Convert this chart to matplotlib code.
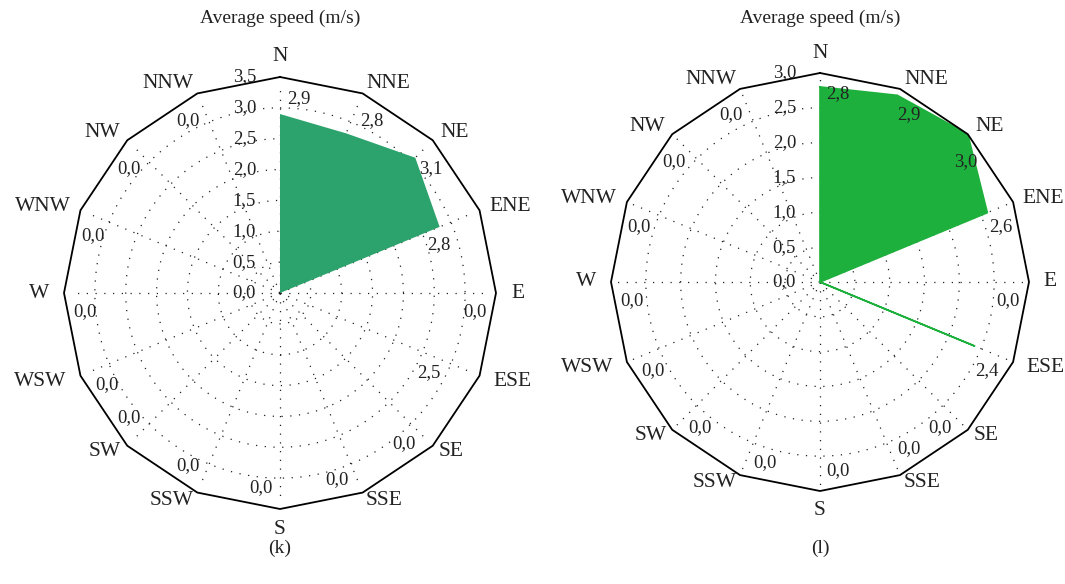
import numpy as np
import matplotlib
matplotlib.use("Agg")
import matplotlib.pyplot as plt

plt.rcParams['font.family'] = ['Liberation Serif', 'DejaVu Serif']

directions = ["N", "NNE", "NE", "ENE", "E", "ESE", "SE", "SSE",
              "S", "SSW", "SW", "WSW", "W", "WNW", "NW", "NNW"]
speed_k = [2.9, 2.8, 3.1, 2.8, 0.0, 2.5, 0.0, 0.0,
           0.0, 0.0, 0.0, 0.0, 0.0, 0.0, 0.0, 0.0]
speed_l = [2.8, 2.9, 3.0, 2.6, 0.0, 2.4, 0.0, 0.0,
           0.0, 0.0, 0.0, 0.0, 0.0, 0.0, 0.0, 0.0]
ticks_k = [0.0, 0.5, 1.0, 1.5, 2.0, 2.5, 3.0, 3.5]
ticks_l = [0.0, 0.5, 1.0, 1.5, 2.0, 2.5, 3.0]
title = "Average speed (m/s)"
panel_k = "(k)"
panel_l = "(l)"

W, H = 1065, 584
fig = plt.figure(figsize=(W / 100, H / 100), dpi=100)


def fmt(v):
    return f"{v:.1f}".replace(".", ",")


def radar(center, R, values, ticks, color, edge_lw, label_override,
          flip_idx, panel):
    cx, cy = center
    rect = [(cx - R) / W, (H - cy - R) / H, 2 * R / W, 2 * R / H]
    ax = fig.add_axes(rect, projection="polar")
    ax.set_theta_zero_location("N")
    ax.set_theta_direction(-1)
    rmax = ticks[-1]
    ax.set_ylim(0, rmax)
    ax.axis("off")
    n = len(directions)
    theta = np.arange(n) * 2 * np.pi / n
    dot = dict(color="#222222", lw=0.9, ls=(0, (1, 6)), clip_on=False)
    tf = np.linspace(0, 2 * np.pi, 500)
    for r in ticks[1:-1]:
        ax.plot(tf, np.full_like(tf, r), **dot)
    for t in theta:
        ax.plot([t, t], [0, rmax * 0.97], **dot)
    # frame polygon
    ax.plot(np.append(theta, theta[0]), np.full(n + 1, rmax),
            color="black", lw=1.3, clip_on=False, zorder=3)
    # data
    tv = np.append(theta, theta[0])
    vv = np.append(values, values[0])
    ax.fill(tv, vv, color=color, lw=0, zorder=2)
    if edge_lw > 0:
        ax.plot(tv, vv, color=color, lw=edge_lw, zorder=2)
    # tick labels
    for tk in ticks:
        ax.annotate(fmt(tk), xy=(0, tk), xytext=(-24, 0),
                    textcoords="offset pixels", ha="right", va="center",
                    fontsize=13.5, color="#222222", zorder=4)
    # data labels
    for i, (t, v) in enumerate(zip(theta, values)):
        frac = label_override.get(directions[i], 0.905)
        off = np.deg2rad(5.5) if i < flip_idx else -np.deg2rad(5.5)
        ax.text(t + off, frac * rmax, fmt(v), ha="center",
                va="center", fontsize=13.5, color="#222222", zorder=4)
    # direction labels
    for t, d in zip(theta, directions):
        s, c = np.sin(t), np.cos(t)
        ha = "left" if s > 0.1 else ("right" if s < -0.1 else "center")
        if abs(s) < 0.1:
            va = "bottom" if c > 0 else "top"
            rr = 1.05
        else:
            va = "center"
            if c > 0.3:
                rr = 1.05
            elif c > -0.5:
                rr = 1.07
            else:
                rr = 1.04
        ax.text(t, rr * rmax, d, ha=ha, va=va, fontsize=15.5,
                color="#222222", clip_on=False)
    fig.text(cx / W, 1 - 18 / H, title, ha="center", va="center",
             fontsize=14, color="#222222")
    fig.text(cx / W, 1 - 548 / H, panel, ha="center", va="center",
             fontsize=14, color="#222222")
    return ax


radar((280, 293), 216, speed_k, ticks_k, "#2ca36c", 0,
      {"ENE": 0.77, "ESE": 0.78}, 11, panel_k)
radar((820, 282), 209, speed_l, ticks_l, "#1db03c", 1.2, {}, 7, panel_l)

fig.savefig("out.png", dpi=100)
